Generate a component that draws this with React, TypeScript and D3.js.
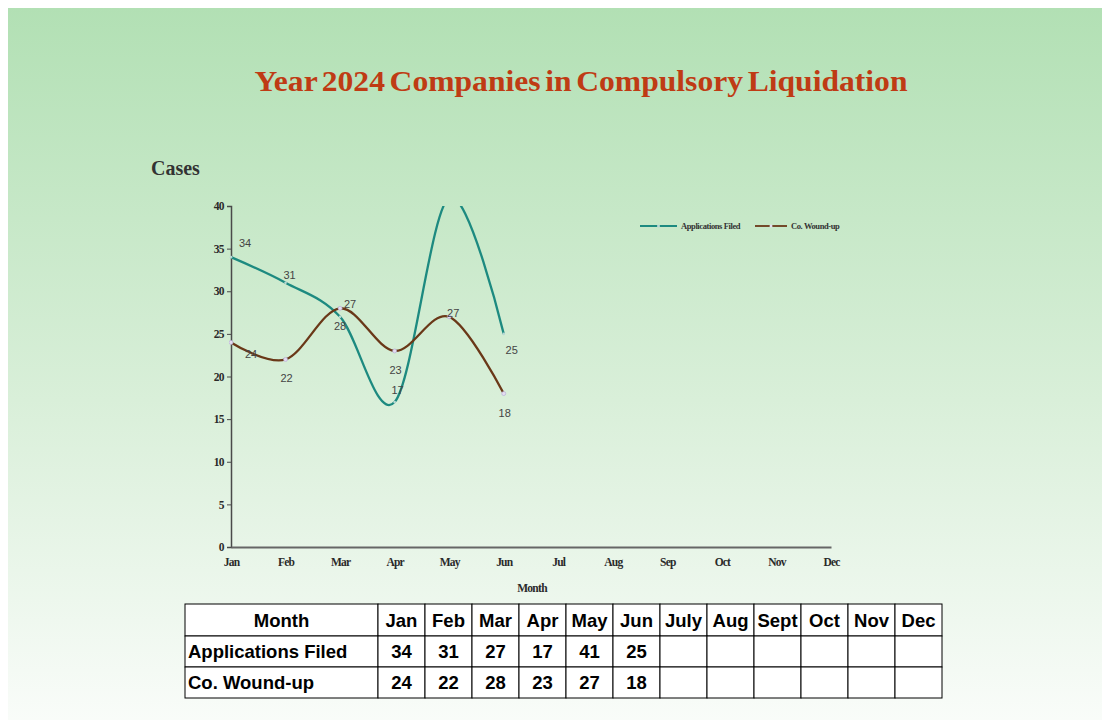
import React, { useEffect, useRef } from 'react';
import * as d3 from 'd3';

// chart data
const months = ['Jan', 'Feb', 'Mar', 'Apr', 'May', 'Jun', 'Jul', 'Aug', 'Sep', 'Oct', 'Nov', 'Dec'];
const tableMonths = ['Jan', 'Feb', 'Mar', 'Apr', 'May', 'Jun', 'July', 'Aug', 'Sept', 'Oct', 'Nov', 'Dec'];
const applicationsFiled = [34, 31, 27, 17, 41, 25];
const woundUp = [24, 22, 28, 23, 27, 18];
const yTicks = [0, 5, 10, 15, 20, 25, 30, 35, 40];

// label nudges (dx, dy) per point, to sit like the original
const appLabelOffset = [[14, -14], [4, -8], [10, -13], [3, -12], [0, -10], [8, 16]];
const woundLabelOffset = [[20, 12], [1, 19], [0, 18], [1, 19], [4, -4], [1, 19]];

const TEAL = '#1d8a80';
const BROWN = '#6a3818';

const App = () => {
    const ref = useRef<SVGSVGElement>(null);

    useEffect(() => {
        if (!ref.current) return;
        const svg = d3.select(ref.current);
        svg.selectAll('*').remove();

        const defs = svg.append('defs');
        const grad = defs.append('linearGradient')
            .attr('id', 'bg-grad')
            .attr('x1', '0%').attr('y1', '0%')
            .attr('x2', '0%').attr('y2', '100%');
        grad.append('stop').attr('offset', '0%').attr('stop-color', '#b2e0b4');
        grad.append('stop').attr('offset', '55%').attr('stop-color', '#d9efd9');
        grad.append('stop').attr('offset', '100%').attr('stop-color', '#f9fcf9');

        // background panel
        svg.append('rect')
            .attr('x', 8).attr('y', 8)
            .attr('width', 1094).attr('height', 712)
            .attr('fill', 'url(#bg-grad)');

        // title
        svg.append('text')
            .attr('x', 581)
            .attr('y', 91)
            .attr('text-anchor', 'middle')
            .attr('textLength', 653)
            .attr('lengthAdjust', 'spacingAndGlyphs')
            .style('font-family', '"Liberation Serif", "Times New Roman", serif')
            .style('font-weight', 'bold')
            .style('font-size', '29px')
            .style('word-spacing', '-3px')
            .style('fill', '#bf3b14')
            .text('Year 2024 Companies in Compulsory Liquidation');

        svg.append('text')
            .attr('x', 151)
            .attr('y', 175)
            .style('font-family', '"Liberation Serif", "Times New Roman", serif')
            .style('font-weight', 'bold')
            .style('font-size', '20px')
            .style('fill', '#333')
            .text('Cases');

        const left = 231, right = 831, top = 206, bottom = 547;
        const x = d3.scalePoint<string>().domain(months).range([left, right]);
        const y = d3.scaleLinear().domain([0, 40]).range([bottom, top]);

        defs.append('clipPath').attr('id', 'plot-clip')
            .append('rect')
            .attr('x', left - 2).attr('y', top)
            .attr('width', right - left + 4).attr('height', bottom - top);

        // axes
        const yAxis = svg.append('g')
            .attr('transform', `translate(${left},0)`)
            .call(d3.axisLeft(y).tickValues(yTicks).tickSize(4).tickPadding(3));
        yAxis.select('.domain').attr('stroke', '#4a4a4a').attr('stroke-width', 1.5);
        yAxis.selectAll('.tick line').attr('stroke', '#4a4a4a');
        yAxis.selectAll('text')
            .style('font-family', '"Liberation Serif", serif')
            .style('font-size', '11.5px')
            .style('font-weight', 'bold')
            .style('letter-spacing', '-0.6px')
            .style('fill', '#2a2a2a');

        const xAxis = svg.append('g')
            .attr('transform', `translate(0,${bottom})`)
            .call(d3.axisBottom(x).tickSize(0).tickPadding(11));
        xAxis.select('.domain').attr('stroke', '#666').attr('stroke-width', 2);
        xAxis.selectAll('text')
            .style('font-family', '"Liberation Serif", serif')
            .style('font-size', '11.5px')
            .style('font-weight', 'bold')
            .style('letter-spacing', '-0.8px')
            .style('fill', '#2a2a2a');

        svg.append('text')
            .attr('x', 532).attr('y', 592)
            .attr('text-anchor', 'middle')
            .style('font-family', '"Liberation Serif", serif')
            .style('font-size', '11.5px')
            .style('font-weight', 'bold')
            .style('letter-spacing', '-0.7px')
            .style('fill', '#2a2a2a')
            .text('Month');

        // lines
        const line = d3.line<number>()
            .x((d, i) => x(months[i]) as number)
            .y(d => y(d))
            .curve(d3.curveCardinal.tension(0));

        const plot = svg.append('g').attr('clip-path', 'url(#plot-clip)');
        plot.append('path')
            .datum(applicationsFiled)
            .attr('d', line)
            .attr('fill', 'none')
            .attr('stroke', TEAL)
            .attr('stroke-width', 2.3);
        plot.append('path')
            .datum(woundUp)
            .attr('d', line)
            .attr('fill', 'none')
            .attr('stroke', BROWN)
            .attr('stroke-width', 2.3);

        plot.selectAll('circle.app')
            .data(applicationsFiled)
            .join('circle')
            .attr('class', 'app')
            .attr('cx', (d, i) => x(months[i]) as number)
            .attr('cy', d => y(d))
            .attr('r', 1.3)
            .attr('fill', '#b9d8d4');
        plot.selectAll('circle.wound')
            .data(woundUp)
            .join('circle')
            .attr('class', 'wound')
            .attr('cx', (d, i) => x(months[i]) as number)
            .attr('cy', d => y(d))
            .attr('r', 2)
            .attr('fill', '#e4ddf0')
            .attr('stroke', '#b3a6d6')
            .attr('stroke-width', 0.6);

        // data labels
        const labelStyle = (sel: any) => sel
            .attr('text-anchor', 'middle')
            .style('font-family', 'Arial, "Liberation Sans", sans-serif')
            .style('font-size', '11px')
            .style('fill', '#444');

        plot.selectAll('text.app-label')
            .data(applicationsFiled)
            .join('text')
            .attr('class', 'app-label')
            .attr('x', (d, i) => (x(months[i]) as number) + appLabelOffset[i][0])
            .attr('y', (d, i) => y(d) + appLabelOffset[i][1] + 4)
            .call(labelStyle)
            .text(d => d);
        plot.selectAll('text.wound-label')
            .data(woundUp)
            .join('text')
            .attr('class', 'wound-label')
            .attr('x', (d, i) => (x(months[i]) as number) + woundLabelOffset[i][0])
            .attr('y', (d, i) => y(d) + woundLabelOffset[i][1] + 4)
            .call(labelStyle)
            .text(d => d);

        // legend
        const legend = svg.append('g').attr('transform', 'translate(640,226)');
        const legendItems = [
            { name: 'Applications Filed', color: TEAL, marker: '#b9d8d4', x: 0, len: 37 },
            { name: 'Co. Wound-up', color: BROWN, marker: '#e4ddf0', x: 115, len: 32 },
        ];
        legendItems.forEach(item => {
            const g = legend.append('g').attr('transform', `translate(${item.x},0)`);
            g.append('line')
                .attr('x1', 0).attr('x2', item.len)
                .attr('y1', 0).attr('y2', 0)
                .attr('stroke', item.color)
                .attr('stroke-width', 1.8);
            g.append('circle')
                .attr('cx', item.len / 2).attr('cy', 0)
                .attr('r', 1.5)
                .attr('fill', item.marker);
            g.append('text')
                .attr('x', item.len + 4).attr('y', 3)
                .style('font-family', '"Liberation Serif", serif')
                .style('font-size', '8.5px')
                .style('font-weight', 'bold')
                .style('letter-spacing', '-0.4px')
                .style('fill', '#333')
                .text(item.name);
        });

        // data table
        const tableLeft = 185, firstCol = 193, colW = 47, rowH = [32, 31, 31];
        const tableTop = 604;
        const rows = [
            { label: 'Month', values: tableMonths, center: true },
            { label: 'Applications Filed', values: applicationsFiled.map(String), center: false },
            { label: 'Co. Wound-up', values: woundUp.map(String), center: false },
        ];
        const cellFont = (sel: any) => sel
            .style('font-family', 'Arial, "Liberation Sans", sans-serif')
            .style('font-weight', 'bold')
            .style('font-size', '18.5px')
            .style('fill', '#000');
        const table = svg.append('g');
        let ry = tableTop;
        rows.forEach((row, r) => {
            const h = rowH[r];
            table.append('rect')
                .attr('x', tableLeft).attr('y', ry)
                .attr('width', firstCol).attr('height', h)
                .attr('fill', '#fff').attr('stroke', '#000').attr('stroke-width', 1);
            table.append('text')
                .attr('x', row.center ? tableLeft + firstCol / 2 : tableLeft + 3)
                .attr('y', ry + h / 2 + 6.5)
                .attr('text-anchor', row.center ? 'middle' : 'start')
                .call(cellFont)
                .text(row.label);
            tableMonths.forEach((m, c) => {
                const cx = tableLeft + firstCol + c * colW;
                table.append('rect')
                    .attr('x', cx).attr('y', ry)
                    .attr('width', colW).attr('height', h)
                    .attr('fill', '#fff').attr('stroke', '#000').attr('stroke-width', 1);
                const v = row.values[c];
                if (v !== undefined) {
                    const t = table.append('text')
                        .attr('x', cx + colW / 2)
                        .attr('y', ry + h / 2 + 6.5)
                        .attr('text-anchor', 'middle')
                        .call(cellFont)
                        .text(v);
                    // keep long month names inside their cells
                    const w = (t.node() as SVGTextElement).getComputedTextLength();
                    if (w > colW - 2) t.attr('textLength', colW - 2).attr('lengthAdjust', 'spacingAndGlyphs');
                }
            });
            ry += h;
        });
    }, []);

    return (
        <svg
            ref={ref}
            width={1102}
            height={722}
            style={{ position: 'absolute', left: 0, top: 0, display: 'block' }}
        />
    );
};

export default App;
